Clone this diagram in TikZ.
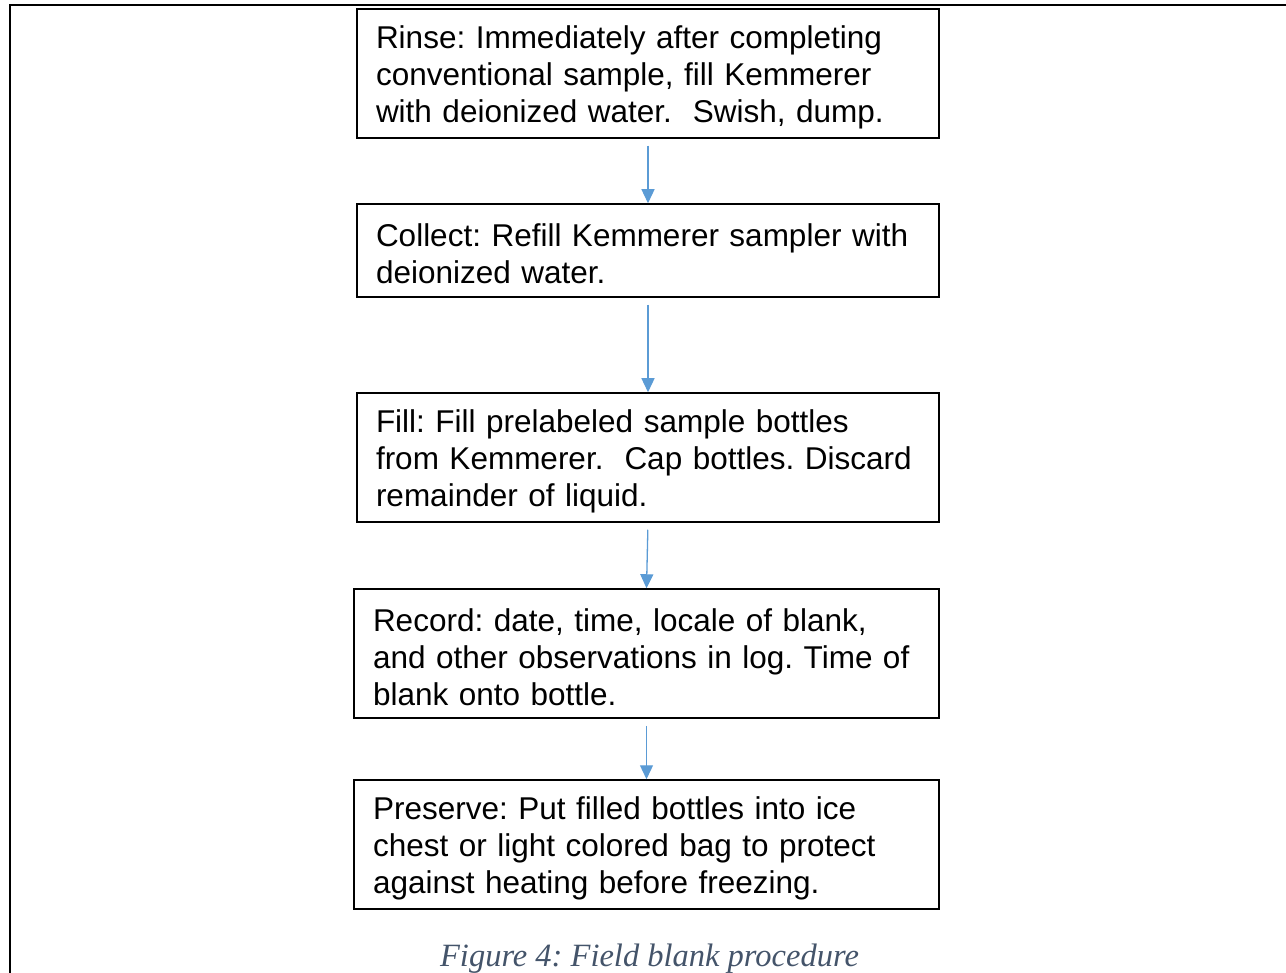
\documentclass[tikz,border=0pt]{standalone}
\usepackage{fontspec}
\setmainfont{Liberation Sans}
\newfontfamily\capfont{Liberation Serif}
\usetikzlibrary{arrows.meta}
\definecolor{arrowblue}{HTML}{5B9BD5}
\definecolor{capblue}{HTML}{44546A}
\frenchspacing
\newcommand{\topfix}{\rule{0pt}{30pt}}
\tikzset{
  stepbox/.style={draw=black, line width=1.5pt, align=left, inner xsep=19pt,
    inner ysep=0pt, font=\frenchspacing\fontsize{31.5}{36.8}\selectfont, anchor=center},
  flow/.style={draw=arrowblue, line width=1.3pt, -{Triangle[width=13pt,length=14pt]}, shorten <=7pt},
}
\begin{document}
\begin{tikzpicture}[x=1pt,y=-1pt]
\useasboundingbox (0,0) rectangle (1286,973);
\draw[line width=2.2pt] (10,973) -- (10,5) -- (1286,5);
\node[stepbox, minimum width=582, minimum height=129, text width=544] (b1) at (648,73.5)
  {\topfix Rinse: Immediately after completing\\conventional sample, fill Kemmerer\\with deionized water.\ \ Swish, dump.};
\node[stepbox, minimum width=582, minimum height=93, text width=544] (b2) at (648,250.5)
  {\topfix Collect: Refill Kemmerer sampler with\\deionized water.};
\node[stepbox, minimum width=582, minimum height=129, text width=544] (b3) at (648,457.5)
  {\topfix Fill: Fill prelabeled sample bottles\\from Kemmerer.\ \ Cap bottles. Discard\\remainder of liquid.};
\node[stepbox, minimum width=585, minimum height=129, text width=547] (b4) at (646.5,653.5)
  {\topfix Record: date, time, locale of blank,\\and other observations in log. Time of\\blank onto bottle.};
\node[stepbox, minimum width=585, minimum height=129, text width=547] (b5) at (646.5,844.5)
  {\topfix Preserve: Put filled bottles into ice\\chest or light colored bag to protect\\against heating before freezing.};
\draw[flow] (b1.south) -- (b2.north);
\draw[flow] (b2.south) -- (b2.south |- b3.north);
\draw[flow] (b3.south) -- (b4.north);
\draw[flow] (b4.south) -- (b5.north);
\node[font=\capfont\itshape\frenchspacing\fontsize{32.5}{38}\selectfont, text=capblue] (cap) at (649.5,959) {Figure 4: Field blank procedure};
\end{tikzpicture}
\end{document}
